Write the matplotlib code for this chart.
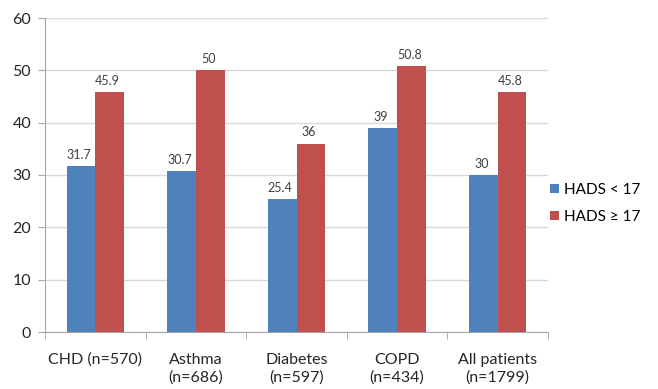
import matplotlib
matplotlib.use("Agg")
import matplotlib.pyplot as plt
import numpy as np

categories = ["CHD (n=570)", "Asthma\n(n=686)", "Diabetes\n(n=597)", "COPD\n(n=434)", "All patients\n(n=1799)"]
hads_low = [31.7, 30.7, 25.4, 39, 30]
hads_high = [45.9, 50, 36, 50.8, 45.8]
low_labels = ["31.7", "30.7", "25.4", "39", "30"]
high_labels = ["45.9", "50", "36", "50.8", "45.8"]
series_names = ["HADS < 17", "HADS \u2265 17"]

plt.rcParams['font.family'] = ['Lato', 'DejaVu Sans']

W, H = 658, 389
fig = plt.figure(figsize=(W/100, H/100), dpi=100)
ax = fig.add_axes([45/W, 1-332/H, 503/W, 314/H])

x = np.arange(len(categories))
w = 0.285
blue = "#4F81BD"
red = "#C0504D"
b1 = ax.bar(x - w/2, hads_low, w, color=blue, label=series_names[0], zorder=3)
b2 = ax.bar(x + w/2, hads_high, w, color=red, label=series_names[1], zorder=3)

for rect, lab in zip(b1, low_labels):
    ax.text(rect.get_x() + rect.get_width()/2 - 0.02, rect.get_height() + 1.0, lab,
            ha="center", va="bottom", fontsize=9, color="#404040")
for rect, lab in zip(b2, high_labels):
    ax.text(rect.get_x() + rect.get_width()/2 - 0.02, rect.get_height() + 1.0, lab,
            ha="center", va="bottom", fontsize=9, color="#404040")

ax.set_xlim(-0.5, len(categories) - 0.5)
ax.set_ylim(0, 60)
ax.set_yticks(np.arange(0, 61, 10))
ax.yaxis.grid(True, color="#D9D9D9", linewidth=1, zorder=0)
ax.set_axisbelow(True)

ax.set_xticks(x)
ax.set_xticklabels(categories, fontsize=11.5, color="#262626", linespacing=1.35)
ax.tick_params(axis="x", length=0, pad=15)
ax.set_xticks(np.arange(-0.5, len(categories), 1), minor=True)
ax.tick_params(axis="x", which="minor", length=5, color="#A6A6A6")
ax.tick_params(axis="y", length=5, color="#A6A6A6", labelsize=11.5, labelcolor="#262626", pad=5)

for s in ["top", "right"]:
    ax.spines[s].set_visible(False)
for s in ["left", "bottom"]:
    ax.spines[s].set_color("#A6A6A6")

ax.legend(loc="center left", bbox_to_anchor=(0.995, 0.41), frameon=False,
          fontsize=11, handlelength=0.6, handleheight=0.6, handletextpad=0.3,
          labelspacing=0.85, borderaxespad=0.0, borderpad=0.3)

fig.savefig("out.png", dpi=100)
